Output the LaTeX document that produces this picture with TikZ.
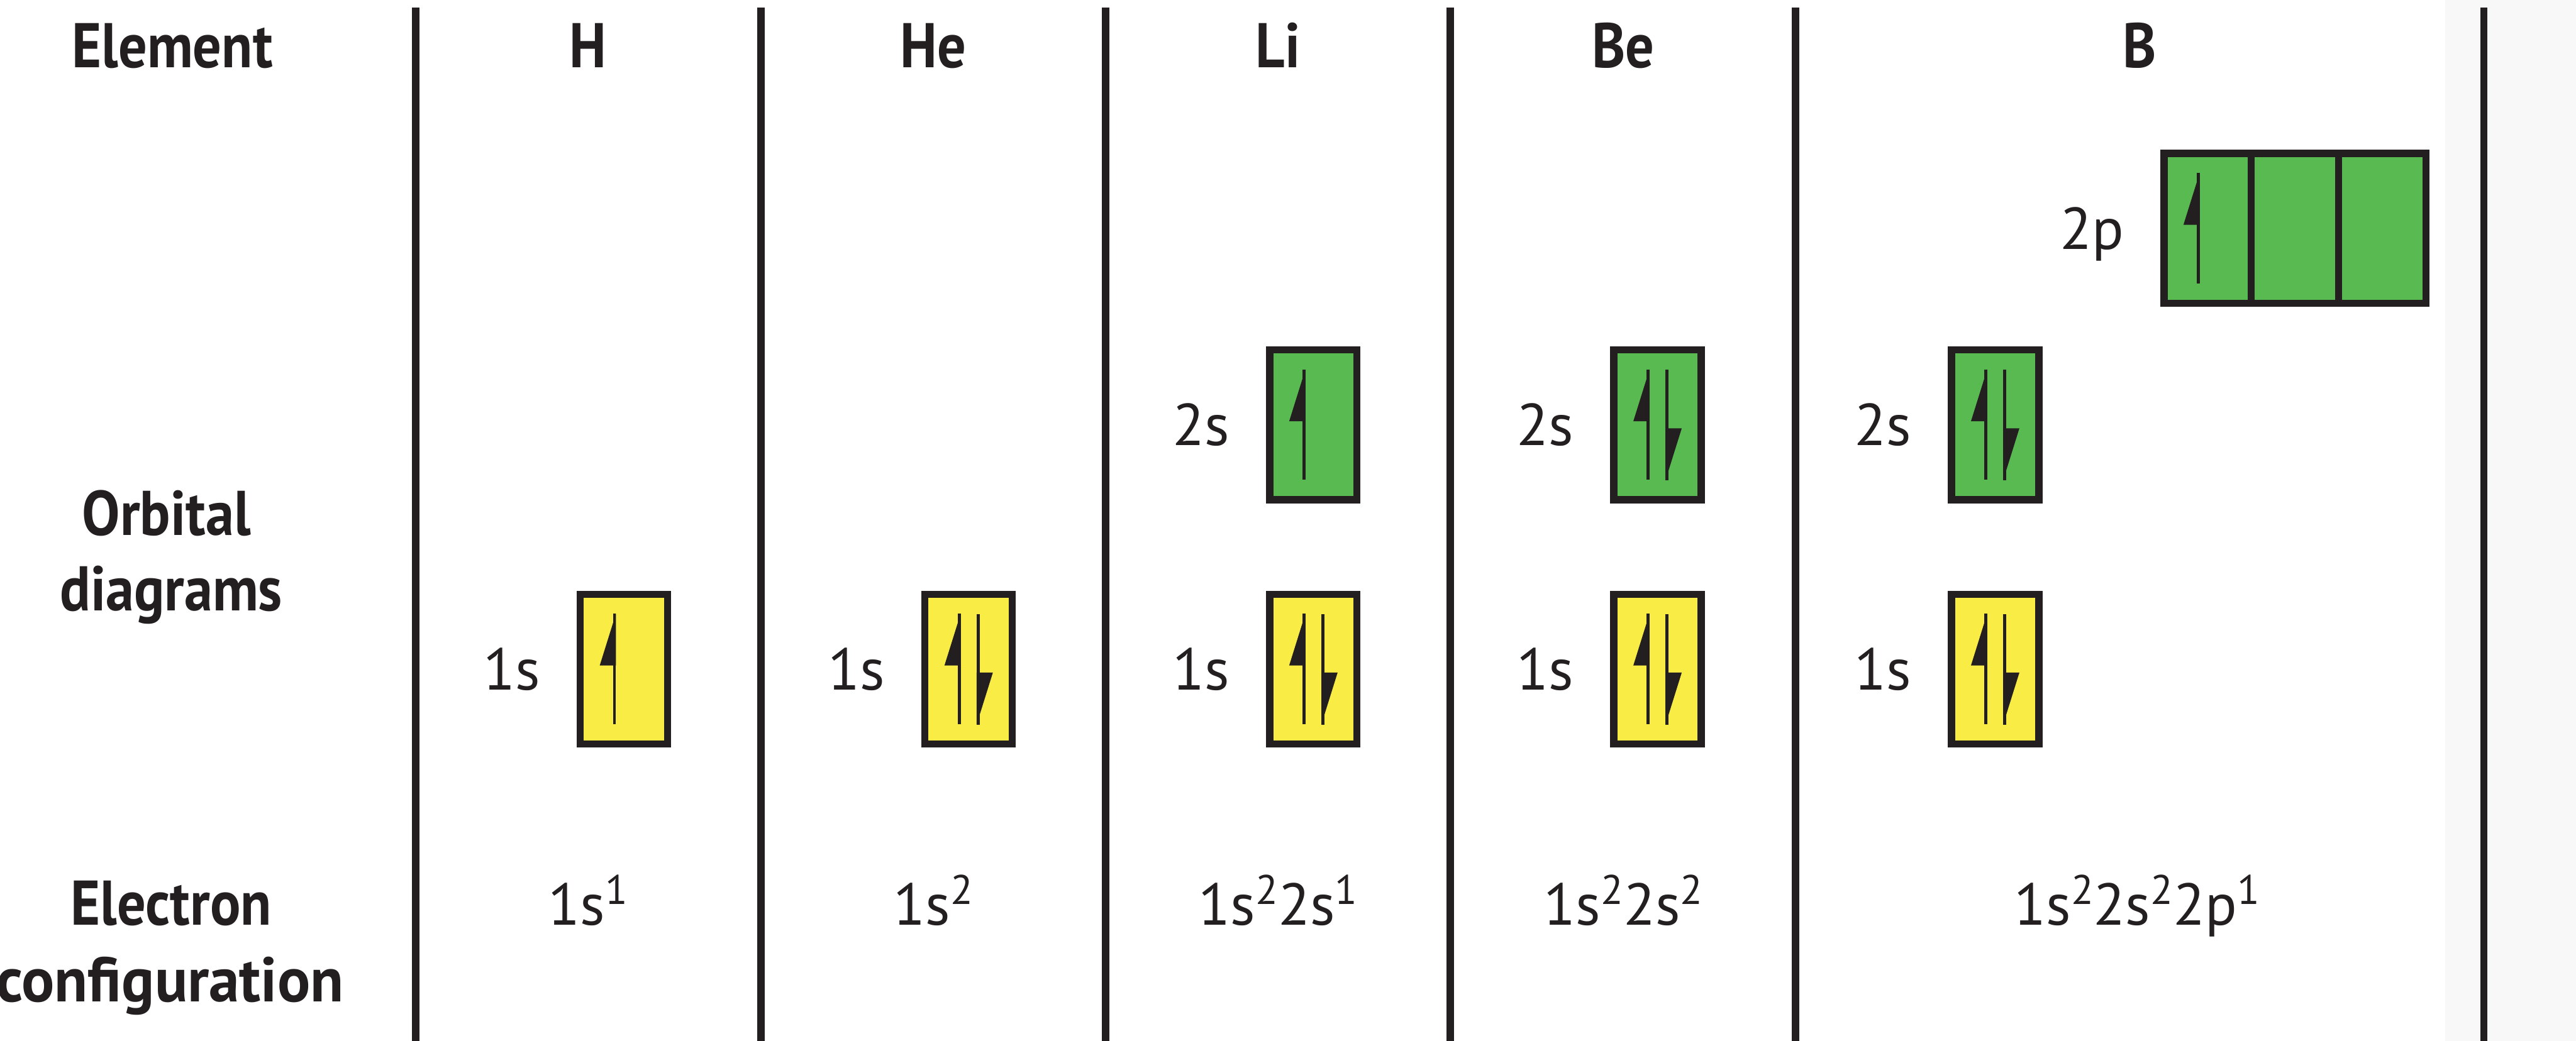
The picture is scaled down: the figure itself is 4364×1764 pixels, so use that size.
\documentclass[tikz,border=0pt]{standalone}
\usepackage{fontspec}
\setmainfont{PT Sans}
\newfontfamily\hdrfont{PT Sans}[FakeStretch=0.9]
\newfontfamily\hdrwidefont{PT Sans}[FakeStretch=0.97]
\definecolor{inkc}{HTML}{231F20}
\definecolor{yelc}{HTML}{F9EC45}
\definecolor{grnc}{HTML}{5ABA52}
\definecolor{panelc}{HTML}{F8F8F8}
\newcommand\spr[1]{\raisebox{3.5pt}{\fontsize{7pt}{7pt}\selectfont #1}}
\tikzset{
  hdr/.style={text=inkc, inner sep=0pt, font=\hdrfont\bfseries\fontsize{10.7pt}{12.9pt}\selectfont},
  hdrwide/.style={hdr, font=\hdrwidefont\bfseries\fontsize{10.7pt}{12.9pt}\selectfont},
  txt/.style={text=inkc, inner sep=0pt, font=\fontsize{10pt}{12pt}\selectfont},
  rule/.style={draw=inkc, line width=1.25pt},
  orb/.style={draw=inkc, line width=1.2pt, minimum width=14.8pt, minimum height=25.4pt, inner sep=0pt},
  s1/.style={orb, fill=yelc},
  s2/.style={orb, fill=grnc},
  spinline/.style={draw=inkc, line width=0.5pt},
  upspin/.pic={
    \draw[spinline] (-16,-94) -- (-16,93);
    \fill[inkc] (-13.5,-94) -- (-41,-6) -- (-13.5,-6) -- cycle;
  },
  pairspin/.pic={
    \pic {upspin};
    \pic[rotate=180] {upspin};
  },
}
\begin{document}
\begin{tikzpicture}[x=0.1pt, y=-0.1pt]
  \useasboundingbox (0,0) rectangle (4364,1764);
  \fill[white] (0,0) rectangle (4364,1764);
  \fill[panelc] (4142,0) rectangle (4364,1764);

  % column rules
  \foreach \cx in {704,1289,1873,2457,3042,4208}
    \draw[rule] (\cx,13) -- (\cx,1764);

  % row headings
  \node[hdr, anchor=base] (hElem) at (292,115) {Element};
  \node[hdr, anchor=base] (hOrbA) at (282,907) {Orbital};
  \node[hdr, anchor=base] (hOrbB) at (290,1035) {diagrams};
  \node[hdr, anchor=base] (hConA) at (290,1568) {Electron};
  \node[hdrwide, anchor=base] (hConB) at (288,1698) {configuration};

  % element headings
  \node[hdr, anchor=base] (elH)  at (996,115)  {H};
  \node[hdr, anchor=base] (elHe) at (1581,115) {He};
  \node[hdr, anchor=base] (elLi) at (2165,115) {Li};
  \node[hdr, anchor=base] (elBe) at (2750,115) {Be};
  \node[hdr, anchor=base] (elB)  at (3625,115) {B};

  % orbital boxes
  \node[s1] (H1s)  at (1057,1134) {};
  \node[s1] (He1s) at (1641,1134) {};
  \node[s1] (Li1s) at (2225,1134) {};
  \node[s2] (Li2s) at (2225,720) {};
  \node[s1] (Be1s) at (2808,1134) {};
  \node[s2] (Be2s) at (2808,720) {};
  \node[s1] (B1s)  at (3380,1134) {};
  \node[s2] (B2s)  at (3380,720) {};
  \node[s2] (B2pa) at (3740,387) {};
  \node[s2] (B2pb) at (3888,387) {};
  \node[s2] (B2pc) at (4036,387) {};

  % electrons
  \pic at (H1s)  {upspin};
  \pic at (He1s) {pairspin};
  \pic at (Li1s) {pairspin};
  \pic at (Li2s) {upspin};
  \pic at (Be1s) {pairspin};
  \pic at (Be2s) {pairspin};
  \pic at (B1s)  {pairspin};
  \pic at (B2s)  {pairspin};
  \pic at (B2pa) {upspin};

  % sublevel labels
  \foreach \bx/\tx in {H1s/1s, He1s/1s, Li1s/1s, Li2s/2s, Be1s/1s, Be2s/2s, B1s/1s, B2s/2s, B2pa/2p}
    \node[txt, anchor=base east] (\bx-lbl) at ([xshift=-6pt, yshift=-3.5pt]\bx.west) {\tx};

  % electron configurations
  \node[txt, anchor=base] (cfH)  at (996,1568)  {1s\spr{1}};
  \node[txt, anchor=base] (cfHe) at (1581,1568) {1s\spr{2}};
  \node[txt, anchor=base] (cfLi) at (2165,1568) {1s\spr{2}2s\spr{1}};
  \node[txt, anchor=base] (cfBe) at (2750,1568) {1s\spr{2}2s\spr{2}};
  \node[txt, anchor=base] (cfB)  at (3620,1568) {1s\spr{2}2s\spr{2}2p\spr{1}};
\end{tikzpicture}
\end{document}
